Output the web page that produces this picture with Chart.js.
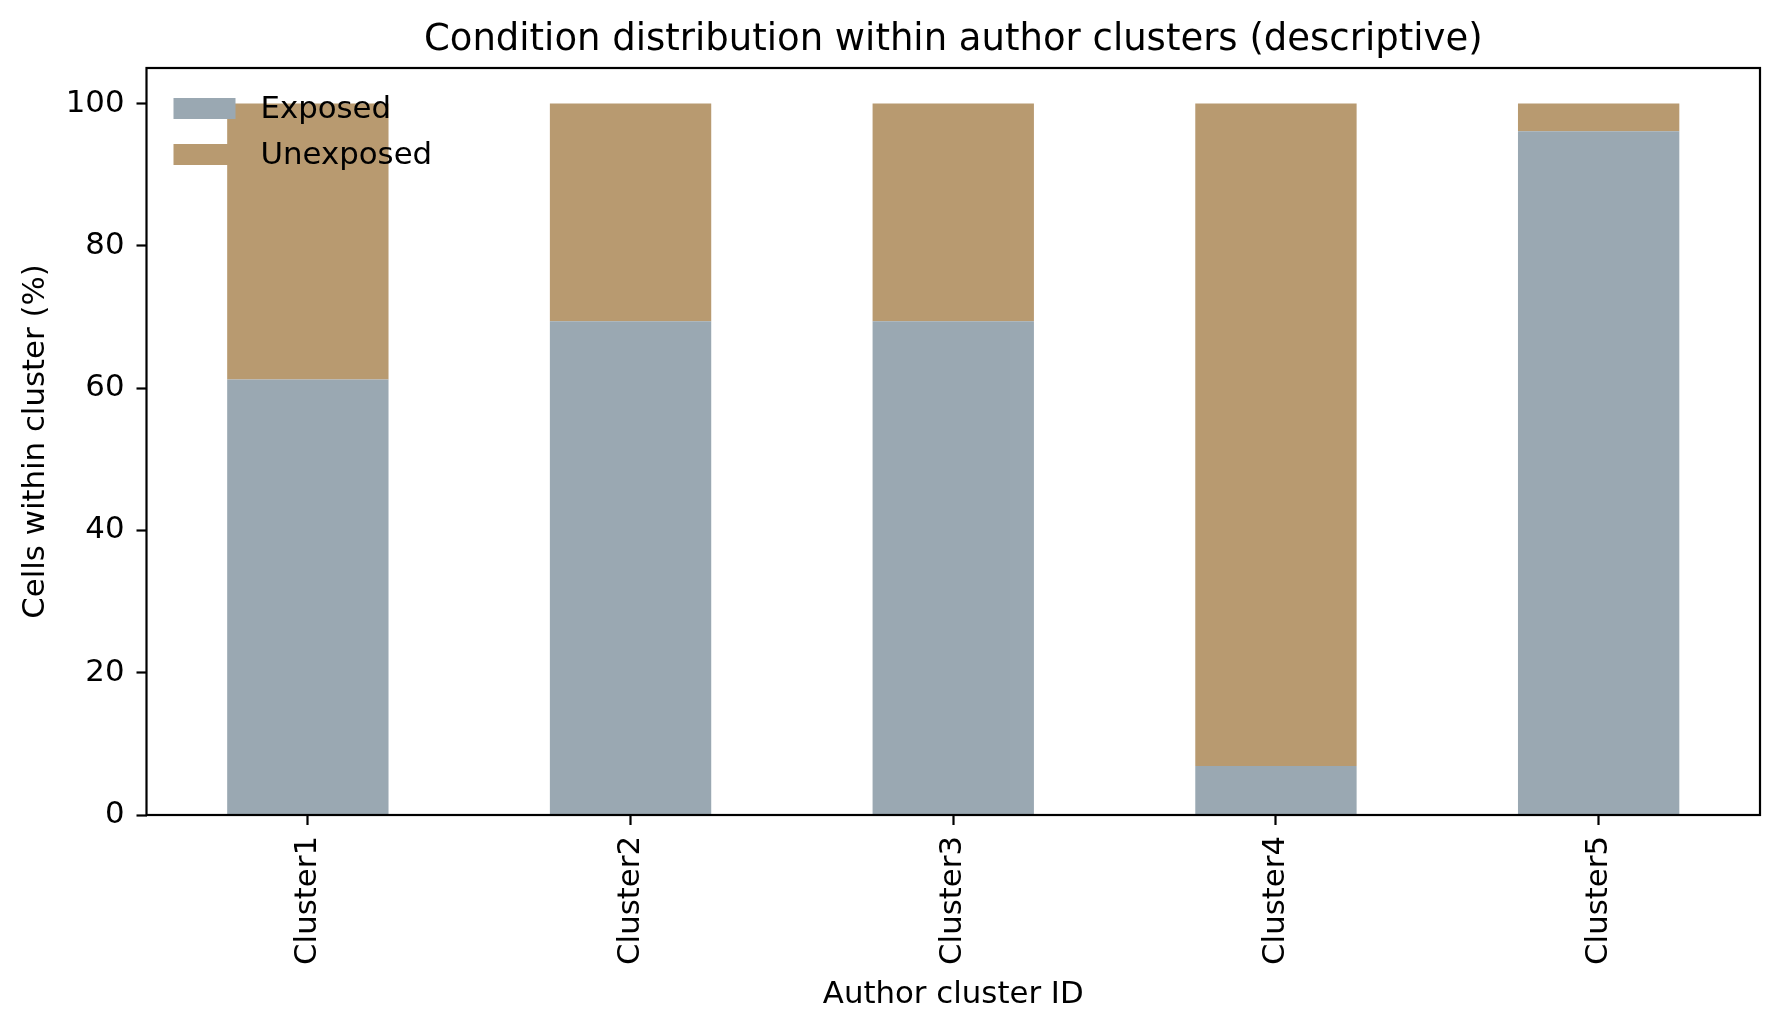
<!DOCTYPE html>
<html lang="en">
<head>
    <meta charset="UTF-8">
    <title>Condition distribution within author clusters</title>
    <script src="https://cdn.jsdelivr.net/npm/chart.js"></script>
    <style>
        html, body {
            margin: 0;
            padding: 0;
            background: #ffffff;
        }
        #wrap {
            width: 1782px;
            height: 1034px;
        }
    </style>
</head>
<body>
    <div id="wrap">
        <canvas id="clusterChart" width="1782" height="1034"></canvas>
    </div>

    <script>
        // Data
        const clusters = ['Cluster1', 'Cluster2', 'Cluster3', 'Cluster4', 'Cluster5'];
        const exposed = [61.2, 69.4, 69.4, 6.9, 96.1];
        const unexposed = [38.8, 30.6, 30.6, 93.1, 3.9];
        const yTicks = [0, 20, 40, 60, 80, 100];

        const titleText = 'Condition distribution within author clusters (descriptive)';
        const xTitle = 'Author cluster ID';
        const yTitle = 'Cells within cluster (%)';

        const FONT = 'DejaVu Sans';
        const tickFont = { family: FONT, size: 30.8 };

        // Title centred over the axes, plus matplotlib-style frame and legend
        const mplExtras = {
            id: 'mplExtras',
            afterDraw(chart) {
                const ctx = chart.ctx;
                const area = chart.chartArea;
                ctx.save();

                // box round the axes
                ctx.strokeStyle = '#000';
                ctx.lineWidth = 2.2;
                ctx.strokeRect(area.left, area.top, area.right - area.left, area.bottom - area.top);

                // title
                ctx.fillStyle = '#000';
                ctx.font = '37px "' + FONT + '"';
                ctx.textAlign = 'center';
                ctx.textBaseline = 'middle';
                ctx.fillText(titleText, (area.left + area.right) / 2, 40);

                // legend, no frame, upper left inside the axes
                ctx.font = '30.8px "' + FONT + '"';
                ctx.textAlign = 'left';
                chart.data.datasets.forEach((ds, i) => {
                    const top = area.top + 30 + i * 46;
                    ctx.fillStyle = ds.backgroundColor;
                    ctx.fillRect(area.left + 27, top, 62, 21);
                    ctx.fillStyle = '#000';
                    ctx.fillText(ds.label, area.left + 114, top + 12);
                });

                ctx.restore();
            }
        };

        const ctx = document.getElementById('clusterChart').getContext('2d');
        new Chart(ctx, {
            type: 'bar',
            data: {
                labels: clusters,
                datasets: [
                    {
                        label: 'Exposed',
                        data: exposed,
                        backgroundColor: '#9aa8b2',
                        borderWidth: 0,
                        barPercentage: 0.5,
                        categoryPercentage: 1.0
                    },
                    {
                        label: 'Unexposed',
                        data: unexposed,
                        backgroundColor: '#b89a70',
                        borderWidth: 0,
                        barPercentage: 0.5,
                        categoryPercentage: 1.0
                    }
                ]
            },
            options: {
                responsive: false,
                animation: false,
                devicePixelRatio: 1,
                layout: {
                    padding: { top: 68, right: 22, bottom: 0, left: 0 }
                },
                plugins: {
                    legend: { display: false },
                    title: { display: false },
                    tooltip: { enabled: false }
                },
                scales: {
                    x: {
                        stacked: true,
                        offset: true,
                        border: { display: false },
                        grid: {
                            offset: false,
                            drawOnChartArea: false,
                            drawTicks: true,
                            tickLength: 10,
                            tickWidth: 2.2,
                            tickColor: '#000'
                        },
                        ticks: {
                            color: '#000',
                            font: tickFont,
                            minRotation: 90,
                            maxRotation: 90,
                            autoSkip: false,
                            padding: 11
                        },
                        title: {
                            display: true,
                            text: xTitle,
                            color: '#000',
                            font: tickFont,
                            padding: { top: 0, bottom: 21 }
                        },
                        afterFit(scale) {
                            scale.height = 219;
                        }
                    },
                    y: {
                        stacked: true,
                        min: 0,
                        max: 105,
                        border: { display: false },
                        grid: {
                            drawOnChartArea: false,
                            drawTicks: true,
                            tickLength: 10,
                            tickWidth: 2.2,
                            tickColor: '#000'
                        },
                        ticks: {
                            color: '#000',
                            font: tickFont,
                            padding: 12
                        },
                        afterBuildTicks(scale) {
                            scale.ticks = yTicks.map(v => ({ value: v }));
                        },
                        title: {
                            display: true,
                            text: yTitle,
                            color: '#000',
                            font: tickFont,
                            padding: { top: 18, bottom: 0 }
                        },
                        afterFit(scale) {
                            scale.width = 146.5;
                        }
                    }
                }
            },
            plugins: [mplExtras]
        });
    </script>
</body>
</html>
